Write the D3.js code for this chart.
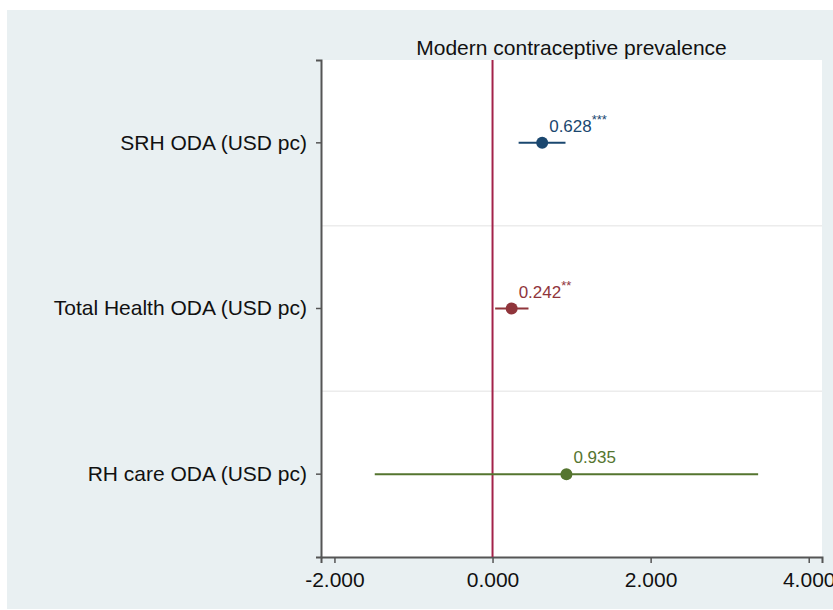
<!DOCTYPE html>
<html>
<head>
<meta charset="utf-8">
<script src="https://cdn.jsdelivr.net/npm/d3@7"></script>
<style>
  body { margin: 0; background: #ffffff; }
  svg { display: block; font-family: "Liberation Sans", Arial, Helvetica, sans-serif; }
</style>
</head>
<body>
<div id="chart"></div>
<script>
// Data
const categories = ["SRH ODA (USD pc)", "Total Health ODA (USD pc)", "RH care ODA (USD pc)"];
const estimates = [0.628, 0.242, 0.935];
const ciLow = [0.33, 0.033, -1.49];
const ciHigh = [0.923, 0.455, 3.36];
const stars = ["***", "**", ""];
const colors = ["#1a476f", "#90353b", "#55752f"];
const xTicks = [-2, 0, 2, 4];
const title = "Modern contraceptive prevalence";

const data = categories.map((c, i) => ({
    name: c, est: estimates[i], lo: ciLow[i], hi: ciHigh[i], stars: stars[i], color: colors[i]
}));

const W = 833, H = 610;
const plot = { left: 321, right: 822, top: 60, bottom: 557 };

const svg = d3.select("#chart")
    .append("svg")
    .attr("width", W)
    .attr("height", H);

// Outer graph region
svg.append("rect")
    .attr("x", 7).attr("y", 10)
    .attr("width", W - 7).attr("height", 599)
    .attr("fill", "#e9f0f2");

// Plot region
svg.append("rect")
    .attr("x", plot.left).attr("y", plot.top)
    .attr("width", plot.right - plot.left)
    .attr("height", plot.bottom - plot.top)
    .attr("fill", "#ffffff");

// Scales
const x = d3.scaleLinear()
    .domain([-2.17, 4.168])
    .range([plot.left, plot.right]);

const y = d3.scaleBand()
    .domain(categories)
    .range([plot.top, plot.bottom])
    .padding(0);

// Gridlines between categories
svg.append("g")
    .selectAll("line")
    .data(categories.slice(1))
    .join("line")
    .attr("x1", plot.left)
    .attr("x2", plot.right)
    .attr("y1", d => y(d))
    .attr("y2", d => y(d))
    .attr("stroke", "#ececec")
    .attr("stroke-width", 1.5);

// Title
svg.append("text")
    .attr("x", (plot.left + plot.right) / 2)
    .attr("y", 55)
    .attr("text-anchor", "middle")
    .attr("font-size", 21)
    .attr("fill", "#111")
    .text(title);

// X axis (plain hyphen for negatives, as in the original)
const fmt = d => d3.format(".3f")(d).replace("\u2212", "-");
const xAxis = svg.append("g")
    .attr("transform", `translate(0,${plot.bottom})`)
    .call(d3.axisBottom(x).tickValues(xTicks).tickFormat(fmt).tickSizeOuter(0).tickSize(6).tickPadding(9));
xAxis.select(".domain").attr("stroke", "#555").attr("stroke-width", 2);
xAxis.selectAll(".tick line").attr("stroke", "#555").attr("stroke-width", 1.5);
xAxis.selectAll(".tick text")
    .attr("font-size", 21)
    .attr("font-family", "\"Liberation Sans\", Arial, sans-serif")
    .attr("fill", "#111");

// Y axis
const yAxis = svg.append("g")
    .attr("transform", `translate(${plot.left},0)`)
    .call(d3.axisLeft(y).tickSizeOuter(0).tickSize(5).tickPadding(9));
yAxis.select(".domain").attr("stroke", "#555").attr("stroke-width", 2);
yAxis.selectAll(".tick line").attr("stroke", "#555").attr("stroke-width", 1.5);
yAxis.selectAll(".tick text")
    .attr("font-size", 21)
    .attr("font-family", "\"Liberation Sans\", Arial, sans-serif")
    .attr("fill", "#111");

// Reference line at zero
svg.append("line")
    .attr("x1", x(0)).attr("x2", x(0))
    .attr("y1", plot.top).attr("y2", plot.bottom)
    .attr("stroke", "#a3224a")
    .attr("stroke-width", 2);

// Confidence intervals
const cy = d => y(d.name) + y.bandwidth() / 2;

svg.append("g")
    .selectAll("line")
    .data(data)
    .join("line")
    .attr("x1", d => x(d.lo))
    .attr("x2", d => x(d.hi))
    .attr("y1", cy)
    .attr("y2", cy)
    .attr("stroke", d => d.color)
    .attr("stroke-width", 2);

// Point estimates
svg.append("g")
    .selectAll("circle")
    .data(data)
    .join("circle")
    .attr("cx", d => x(d.est))
    .attr("cy", cy)
    .attr("r", 6)
    .attr("fill", d => d.color);

// Value labels with significance stars
const labels = svg.append("g")
    .selectAll("text")
    .data(data)
    .join("text")
    .attr("x", d => x(d.est) + 7)
    .attr("y", d => cy(d) - 11)
    .attr("font-size", 17)
    .attr("fill", d => d.color);

labels.append("tspan").text(d => d.est.toFixed(3));
labels.append("tspan")
    .attr("font-size", 13)
    .attr("dy", -8)
    .text(d => d.stars);
</script>
</body>
</html>
